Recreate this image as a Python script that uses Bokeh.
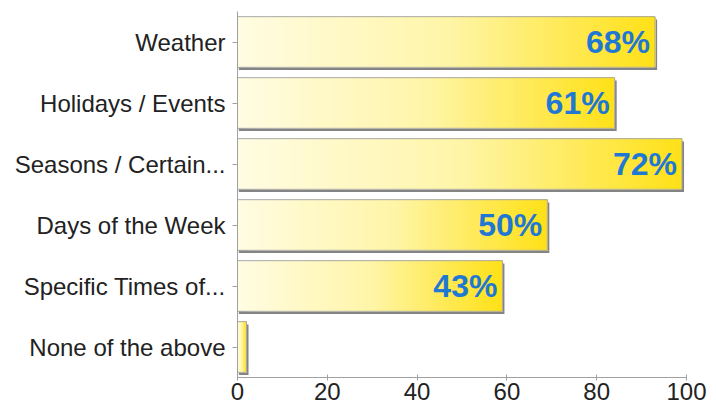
from bokeh.plotting import figure
from bokeh.models import ColumnDataSource, FactorRange, Range1d, FixedTicker
from bokeh.transform import dodge
from bokeh.core.properties import value
from bokeh.embed import file_html
from bokeh.resources import INLINE

# ---- data ----
categories = ["Weather", "Holidays / Events", "Seasons / Certain...",
              "Days of the Week", "Specific Times of...", "None of the above"]
counts = [93, 84, 99, 69, 59, 2]
percent_labels = ["68%", "61%", "72%", "50%", "43%", ""]
x_ticks = [0, 20, 40, 60, 80, 100]

# ---- styles ----
FONT = "Liberation Sans"
BAR_H = 0.83
N_SEG = 60
stops = [(0.0, (255, 252, 226)), (0.5, (255, 245, 168)), (1.0, (255, 225, 25))]


def grad(t):
    for (t0, c0), (t1, c1) in zip(stops[:-1], stops[1:]):
        if t <= t1:
            f = (t - t0) / (t1 - t0) if t1 > t0 else 0
            return "#%02x%02x%02x" % tuple(int(round(a + (b - a) * f)) for a, b in zip(c0, c1))
    return "#%02x%02x%02x" % stops[-1][1]


p = figure(width=707, height=409, output_backend="svg", toolbar_location=None,
           y_range=FactorRange(factors=list(reversed(categories)), range_padding=0),
           x_range=Range1d(0, 100),
           min_border_left=237, min_border_right=21, min_border_top=11, min_border_bottom=32)
p.outline_line_color = None
p.xgrid.visible = False
p.ygrid.visible = False
p.background_fill_color = "white"

src = ColumnDataSource(dict(cat=categories, val=counts, lab=percent_labels,
                            shadow_right=[v + 0.45 for v in counts]))

# shadow
p.hbar(y=dodge("cat", -0.045, range=p.y_range), left=0.3, right="shadow_right",
       height=BAR_H, source=src, fill_color="#6e6e6e", fill_alpha=0.85, line_color=None)

# gradient fill
seg = dict(cat=[], left=[], right=[], color=[])
for c, v in zip(categories, counts):
    for k in range(N_SEG):
        seg["cat"].append(c)
        seg["left"].append(v * k / N_SEG)
        seg["right"].append(v)
        seg["color"].append(grad(k / (N_SEG - 1)))
p.hbar(y="cat", left="left", right="right", height=BAR_H,
       source=ColumnDataSource(seg), fill_color="color", line_color=None)

# outline
p.hbar(y="cat", left=0, right="val", height=BAR_H, source=src,
       fill_alpha=0, line_color="#a8a8a8", line_width=1)

# value labels
p.text(x="val", y="cat", text="lab", source=src, x_offset=-5,
       text_align="right", text_baseline="middle",
       text_font=value(FONT), text_font_style="bold", text_font_size="32px",
       text_color="#1f78d3")

# axes
p.xaxis.ticker = FixedTicker(ticks=x_ticks)
for ax in (p.xaxis[0], p.yaxis[0]):
    ax.axis_line_color = "#a0a0a0"
    ax.major_tick_line_color = "#a0a0a0"
    ax.minor_tick_line_color = None
    ax.major_label_text_font = FONT
    ax.major_label_text_font_size = "24px"
    ax.major_label_text_color = "#222222"
p.xaxis.major_tick_in = 3
p.xaxis.major_tick_out = 3
p.xaxis.major_label_standoff = 2
p.yaxis.major_tick_in = 0
p.yaxis.major_tick_out = 5
p.yaxis.major_label_standoff = 7

open("out.html", "w").write(file_html(p, INLINE))
